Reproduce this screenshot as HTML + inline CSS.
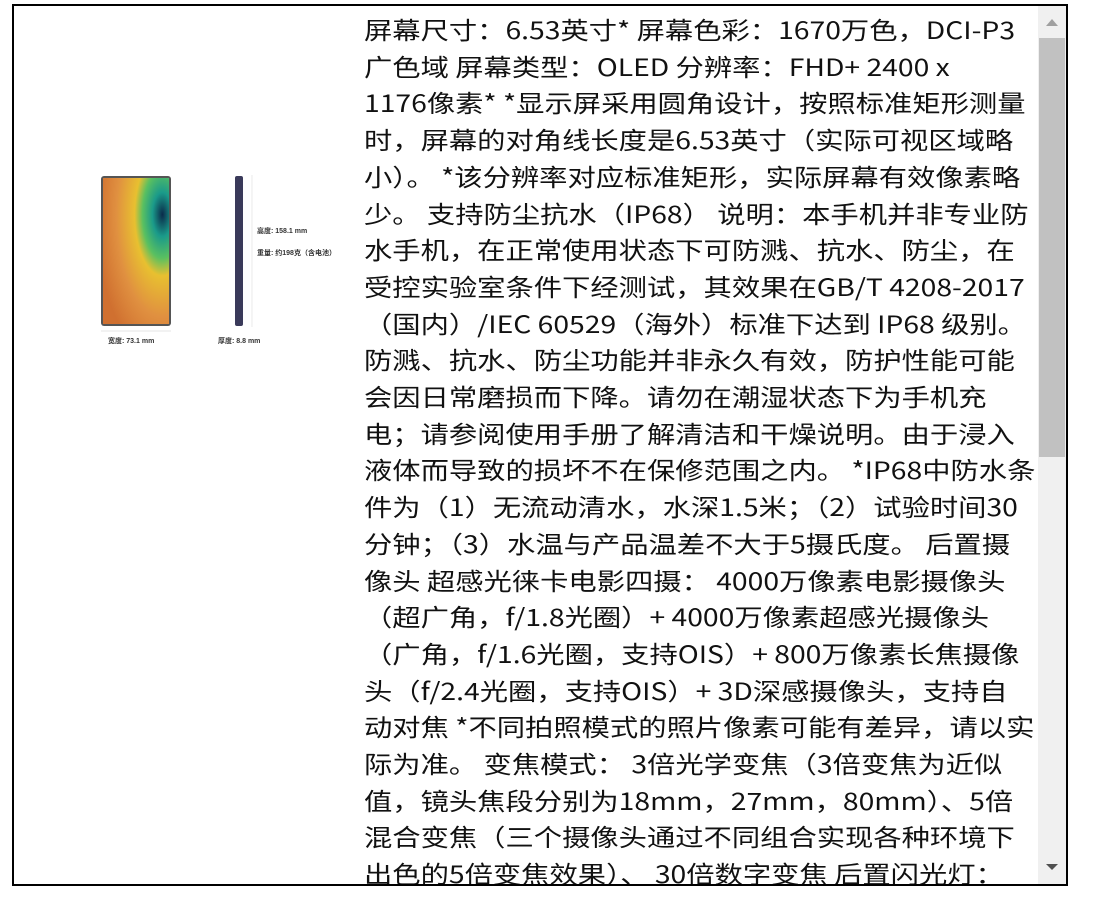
<!DOCTYPE html>
<html><head><meta charset="utf-8"><style>
body{margin:0;width:1112px;height:904px;background:#fff;position:relative;overflow:hidden;font-family:"Liberation Sans","Noto Sans CJK SC",sans-serif}
.box{position:absolute;left:12px;top:4px;width:1052px;height:878px;border:2px solid #000;overflow:hidden}
.l{position:absolute;left:350px;font-family:"Noto Sans CJK SC",sans-serif;font-size:24px;line-height:36px;white-space:nowrap;color:#111;transform:scaleX(1.179);transform-origin:0 0}
.sb{position:absolute;left:1024px;top:0;width:28px;height:878px;background:#f0f0f0}
.th{position:absolute;left:1px;top:32px;width:26px;height:419px;background:#c1c1c1}
.sm{position:absolute;font-size:7px;color:#333;white-space:nowrap;font-weight:bold}
</style></head><body>
<div class="box">
<svg style="position:absolute;left:78px;top:159px" width="270" height="190">
<defs><radialGradient id="g" cx="0.9" cy="0.25" r="1"><stop offset="0" stop-color="#0a2a4a"/><stop offset="0.15" stop-color="#1a9a8a"/><stop offset="0.3" stop-color="#5ac060"/><stop offset="0.42" stop-color="#e8c030"/><stop offset="0.7" stop-color="#e09040"/><stop offset="1" stop-color="#d07030"/></radialGradient></defs>
<rect x="9" y="11" width="70" height="150" rx="3" fill="#555"/>
<rect x="11" y="13" width="66" height="146" fill="url(#g)"/>
<rect x="143" y="11" width="8" height="150" rx="2" fill="#3a3a5a"/>
<line x1="9" y1="166" x2="79" y2="166" stroke="#ccc" stroke-width="0.6"/>
<line x1="160" y1="10" x2="160" y2="162" stroke="#ddd" stroke-width="0.6"/>
</svg>
<div class="sm" style="left:94px;top:330px">宽度: 73.1 mm</div>
<div class="sm" style="left:204px;top:330px">厚度: 8.8 mm</div>
<div class="sm" style="left:243px;top:220px">高度: 158.1 mm</div>
<div class="sm" style="left:243px;top:242px">重量: 约198克（含电池）</div>
<div class="l" style="top:5px">屏幕尺寸：6.53英寸* 屏幕色彩：1670万色，DCI-P3</div>
<div class="l" style="top:41.7px">广色域 屏幕类型：OLED 分辨率：FHD+ 2400 x</div>
<div class="l" style="top:78.4px">1176像素* *显示屏采用圆角设计，按照标准矩形测量</div>
<div class="l" style="top:115.1px">时，屏幕的对角线长度是6.53英寸（实际可视区域略</div>
<div class="l" style="top:151.8px">小）。 *该分辨率对应标准矩形，实际屏幕有效像素略</div>
<div class="l" style="top:188.5px">少。 支持防尘抗水（IP68） 说明：本手机并非专业防</div>
<div class="l" style="top:225.2px">水手机，在正常使用状态下可防溅、抗水、防尘，在</div>
<div class="l" style="top:261.9px">受控实验室条件下经测试，其效果在GB/T 4208-2017</div>
<div class="l" style="top:298.6px">（国内）/IEC 60529（海外）标准下达到 IP68 级别。</div>
<div class="l" style="top:335.3px">防溅、抗水、防尘功能并非永久有效，防护性能可能</div>
<div class="l" style="top:372px">会因日常磨损而下降。请勿在潮湿状态下为手机充</div>
<div class="l" style="top:408.7px">电；请参阅使用手册了解清洁和干燥说明。由于浸入</div>
<div class="l" style="top:445.4px">液体而导致的损坏不在保修范围之内。 *IP68中防水条</div>
<div class="l" style="top:482.1px">件为（1）无流动清水，水深1.5米；（2）试验时间30</div>
<div class="l" style="top:518.8px">分钟；（3）水温与产品温差不大于5摄氏度。 后置摄</div>
<div class="l" style="top:555.5px">像头 超感光徕卡电影四摄： 4000万像素电影摄像头</div>
<div class="l" style="top:592.2px">（超广角，f/1.8光圈）+ 4000万像素超感光摄像头</div>
<div class="l" style="top:628.9px">（广角，f/1.6光圈，支持OIS）+ 800万像素长焦摄像</div>
<div class="l" style="top:665.6px">头（f/2.4光圈，支持OIS）+ 3D深感摄像头，支持自</div>
<div class="l" style="top:702.3px">动对焦 *不同拍照模式的照片像素可能有差异，请以实</div>
<div class="l" style="top:739px">际为准。 变焦模式： 3倍光学变焦（3倍变焦为近似</div>
<div class="l" style="top:775.7px">值，镜头焦段分别为18mm，27mm，80mm）、5倍</div>
<div class="l" style="top:812.4px">混合变焦（三个摄像头通过不同组合实现各种环境下</div>
<div class="l" style="top:849.1px">出色的5倍变焦效果）、 30倍数字变焦 后置闪光灯：</div>
<div class="sb"><div class="th"></div>
<svg style="position:absolute;left:0;top:0" width="28" height="878"><polygon points="8,20 20,20 14,13" fill="#a0a0a0"/><polygon points="8,858 20,858 14,864" fill="#505050"/></svg>
</div>
</div>
</body></html>
